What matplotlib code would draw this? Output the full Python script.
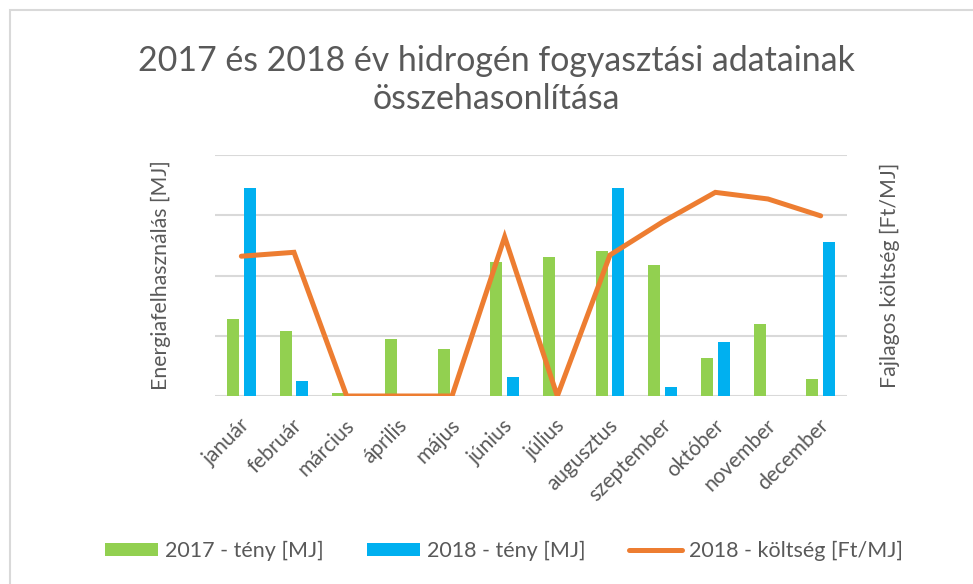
import matplotlib
matplotlib.use("Agg")
import matplotlib.pyplot as plt
from matplotlib.patches import Rectangle
from matplotlib.transforms import ScaledTranslation
import numpy as np

# data (gridline units, axis labels hidden)
months = ["január", "február", "március", "április", "május", "június",
          "július", "augusztus", "szeptember", "október", "november", "december"]
teny_2017 = [1.27, 1.08, 0.055, 0.95, 0.785, 2.23, 2.31, 2.40, 2.17, 0.635, 1.19, 0.28]
teny_2018 = [3.45, 0.25, 0, 0, 0, 0.315, 0, 3.45, 0.145, 0.89, 0, 2.55]
koltseg_2018 = [2.32, 2.385, 0, 0, 0, 2.64, 0, 2.34, 2.89, 3.38, 3.27, 2.99]

GREEN = "#92D050"
BLUE = "#00B0F0"
ORANGE = "#ED7D31"
GRID = "#D9D9D9"
TXT = "#595959"

plt.rcParams["font.family"] = ["Lato", "DejaVu Sans"]

fig = plt.figure(figsize=(9.73, 5.84), dpi=100)
ax = fig.add_axes([215 / 973, 1 - 396 / 584, 632 / 973, 241 / 584])
ax2 = ax.twinx()

x = np.arange(len(months))
w = 0.222
ax.bar(x - 0.158, teny_2017, width=w, color=GREEN, label="2017 - tény [MJ]", zorder=2)
ax.bar(x + 0.158, teny_2018, width=w, color=BLUE, label="2018 - tény [MJ]", zorder=2)
ax2.plot(x, koltseg_2018, color=ORANGE, lw=3.6, solid_capstyle="round",
         solid_joinstyle="miter", label="2018 - költség [Ft/MJ]")

for a in (ax, ax2):
    a.set_ylim(0, 4)
    a.set_xlim(-0.5, 11.5)
    for s in a.spines.values():
        s.set_visible(False)
    a.tick_params(axis="y", length=0, labelleft=False, labelright=False)

ax.set_yticks(range(5))
ax.grid(axis="y", color=GRID, lw=1.5, zorder=0)
ax.set_axisbelow(True)
ax2.set_yticks([])

ax.set_xticks(x)
ax.set_xticklabels(months, rotation=45, ha="right", va="center",
                   rotation_mode="anchor", fontsize=15, color=TXT)
ax.tick_params(axis="x", length=0, pad=19)
shift = ScaledTranslation(5 / 100, 0, fig.dpi_scale_trans)
for lab in ax.get_xticklabels():
    lab.set_transform(lab.get_transform() + shift)

ax.set_ylabel("Energiafelhasználás [MJ]", fontsize=15.3, color=TXT)
ax.yaxis.set_label_coords(-44 / 632, 0.5)
ax2.set_ylabel("Fajlagos költség [Ft/MJ]", fontsize=15.3, color=TXT, rotation=90)
ax2.yaxis.set_label_coords(1 + 33 / 632, 0.5)

fig.text(496 / 973, 1 - 80 / 584, "2017 és 2018 év hidrogén fogyasztási adatainak\nösszehasonlítása",
         ha="center", va="center", fontsize=24.4, color=TXT, linespacing=1.2)

h1, l1 = ax.get_legend_handles_labels()
h2, l2 = ax2.get_legend_handles_labels()
fig.legend(h1 + h2, l1 + l2, loc="center", bbox_to_anchor=(504 / 973, 1 - 551 / 584),
           ncol=3, frameon=False, fontsize=15.5, labelcolor=TXT,
           handlelength=2.45, handleheight=0.55, handletextpad=0.3, columnspacing=2.05)

fig.patches.append(Rectangle((10 / 973, -0.1), 1.2, 1.1 - 10 / 584, transform=fig.transFigure,
                             fill=False, edgecolor=GRID, lw=1.5))

fig.savefig("out.png", dpi=100)
